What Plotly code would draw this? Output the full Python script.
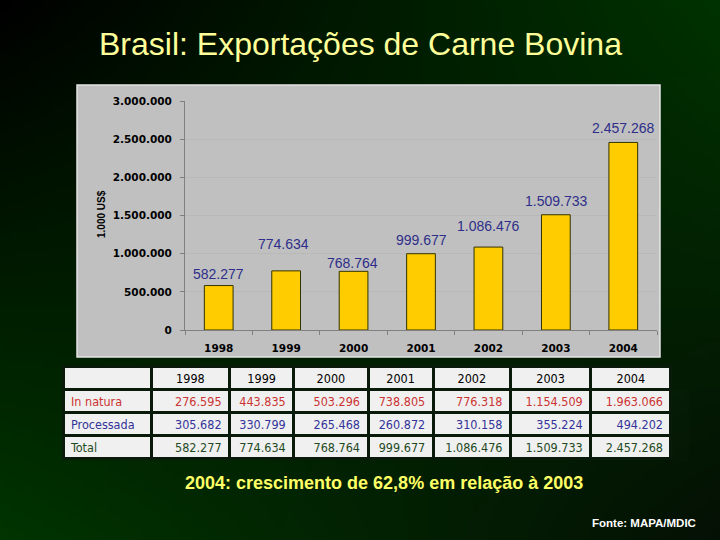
import base64
import struct
import zlib

import plotly.graph_objects as go

# ---------------- data ----------------
years = ["1998", "1999", "2000", "2001", "2002", "2003", "2004"]
in_natura = [276595, 443835, 503296, 738805, 776318, 1154509, 1963066]
processada = [305682, 330799, 265468, 260872, 310158, 355224, 494202]
total = [582277, 774634, 768764, 999677, 1086476, 1509733, 2457268]
row_labels = ["In natura", "Processada", "Total"]

title_text = "Brasil: Exportações de Carne Bovina"
note_text = "2004: crescimento de 62,8% em relação à 2003"
source_text = "Fonte: MAPA/MDIC"
y_title = "1.000 US$"

# label offsets (style only), pixels
label_yshift = [10, 25, 6, 12, 19, 12, 12]
label_xshift = [0, -3, -1, 0, 0, 0, 0]


def fmt(v):
    return f"{v:,}".replace(",", ".")


W, H = 720, 540


def px_x(p):
    return p / W


def px_y(p):
    return 1 - p / H


# ---------------- background gradient image ----------------
def make_png(w, h, tl, tr, bl, br):
    rows = []
    for j in range(h):
        v = j / (h - 1)
        row = bytearray(b"\x00")
        for i in range(w):
            u = i / (w - 1)
            for c in range(3):
                top = tl[c] * (1 - u) + tr[c] * u
                bot = bl[c] * (1 - u) + br[c] * u
                row.append(int(round(top * (1 - v) + bot * v)))
        rows.append(bytes(row))
    raw = b"".join(rows)

    def chunk(t, d):
        return struct.pack(">I", len(d)) + t + d + struct.pack(">I", zlib.crc32(t + d) & 0xFFFFFFFF)

    ihdr = struct.pack(">IIBBBBB", w, h, 8, 2, 0, 0, 0)
    data = b"\x89PNG\r\n\x1a\n" + chunk(b"IHDR", ihdr) + chunk(b"IDAT", zlib.compress(raw, 9)) + chunk(b"IEND", b"")
    return "data:image/png;base64," + base64.b64encode(data).decode()


bg_src = make_png(144, 108, (0, 0, 0), (0, 50, 0), (0, 52, 0), (4, 16, 4))

# ---------------- figure ----------------
fig = go.Figure()

fig.add_trace(
    go.Bar(
        x=years,
        y=total,
        marker=dict(color="#ffcc00", line=dict(color="#333300", width=1)),
        hoverinfo="x+y",
        showlegend=False,
    )
)

annotations = []
for i, (yr, v) in enumerate(zip(years, total)):
    annotations.append(
        dict(
            x=i,
            y=v,
            xref="x",
            yref="y",
            text=fmt(v),
            showarrow=False,
            yanchor="middle",
            xanchor="center",
            yshift=label_yshift[i] + 2,
            xshift=label_xshift[i],
            font=dict(family="Liberation Sans, Arial", size=14, color="#2e2e8a"),
        )
    )

annotations += [
    dict(
        x=0.5, y=px_y(44), xref="paper", yref="paper", text=title_text, showarrow=False,
        xanchor="center", yanchor="middle",
        font=dict(family="Liberation Sans, Arial", size=32, color="#ffff99"),
    ),
    dict(
        x=px_x(101), y=px_y(214), xref="paper", yref="paper", text=y_title, showarrow=False,
        textangle=-90, xanchor="center", yanchor="middle",
        font=dict(family="Liberation Sans, Arial", size=10, color="#000000", weight="bold"),
    ),
    dict(
        x=px_x(384), y=px_y(483), xref="paper", yref="paper", text=note_text, showarrow=False,
        xanchor="center", yanchor="middle",
        font=dict(family="Liberation Sans, Arial", size=18, color="#ffff66", weight="bold"),
    ),
    dict(
        x=px_x(698), y=px_y(523), xref="paper", yref="paper", text=source_text, showarrow=False,
        xanchor="right", yanchor="middle",
        font=dict(family="Liberation Sans, Arial", size=11.5, color="#ffffff", weight="bold"),
    ),
]

# table
cell_values = [row_labels] + [[fmt(in_natura[i]), fmt(processada[i]), fmt(total[i])] for i in range(len(years))]
row_colors = ["#cc3333", "#333399", "#1f4a1f"]
tfont = "Liberation Sans Narrow, Arial Narrow, DejaVu Sans Condensed, Liberation Sans, Arial"

fig.add_trace(
    go.Table(
        domain=dict(x=[px_x(63), px_x(671)], y=[px_y(462), px_y(366)]),
        columnwidth=[88, 78, 64, 74, 65, 77, 80, 80],
        header=dict(
            values=[""] + years,
            align="center",
            fill_color="#f0f0f0",
            line=dict(color="#0a1a0a", width=3),
            font=dict(family=tfont, size=12.5, color="#000000"),
            height=23,
        ),
        cells=dict(
            values=cell_values,
            align=["left"] + ["right"] * len(years),
            fill_color="#f0f0f0",
            line=dict(color="#0a1a0a", width=3),
            font=dict(family=tfont, size=12.5, color=[row_colors] * (len(years) + 1)),
            height=23,
        ),
    )
)

fig.update_layout(
    width=W,
    height=H,
    autosize=False,
    margin=dict(l=0, r=0, t=0, b=0, pad=0, autoexpand=False),
    paper_bgcolor="#001a00",
    plot_bgcolor="#c0c0c0",
    separators=",.",
    bargap=0.574,
    showlegend=False,
    annotations=annotations,
    images=[
        dict(
            source=bg_src, xref="paper", yref="paper", x=0, y=1, sizex=1, sizey=1,
            xanchor="left", yanchor="top", sizing="stretch", layer="below",
        )
    ],
    shapes=[
        dict(
            type="rect", xref="paper", yref="paper",
            x0=px_x(77), x1=px_x(660), y0=px_y(357), y1=px_y(85),
            fillcolor="#c0c0c0", line=dict(color="#e4e4e4", width=1.5), layer="below",
        )
    ],
    xaxis=dict(
        domain=[px_x(185), px_x(657)],
        type="category",
        range=[-0.5, len(years) - 0.5],
        autorange=False,
        automargin=False,
        showgrid=False,
        showline=True,
        linecolor="#808080",
        linewidth=1,
        ticks="outside",
        tickson="boundaries",
        ticklen=4,
        tickcolor="#808080",
        ticklabelstandoff=8,
        tickfont=dict(family="DejaVu Sans", size=10.5, color="#000000", weight="bold"),
        fixedrange=True,
    ),
    yaxis=dict(
        domain=[px_y(330), px_y(101)],
        range=[0, 3000000],
        autorange=False,
        automargin=False,
        dtick=500000,
        tickformat=",d",
        showgrid=True,
        gridcolor="#b8b8b8",
        gridwidth=1,
        zeroline=False,
        showline=True,
        linecolor="#808080",
        linewidth=1,
        ticks="outside",
        ticklen=4,
        tickcolor="#808080",
        ticklabelstandoff=6,
        tickfont=dict(family="DejaVu Sans", size=10.5, color="#000000", weight="bold"),
        fixedrange=True,
    ),
)

fig.write_html(
    "out.html",
    config={"displayModeBar": False},
    post_script="document.body.style.margin='0';document.body.style.padding='0';document.body.style.background='#000';",
)
